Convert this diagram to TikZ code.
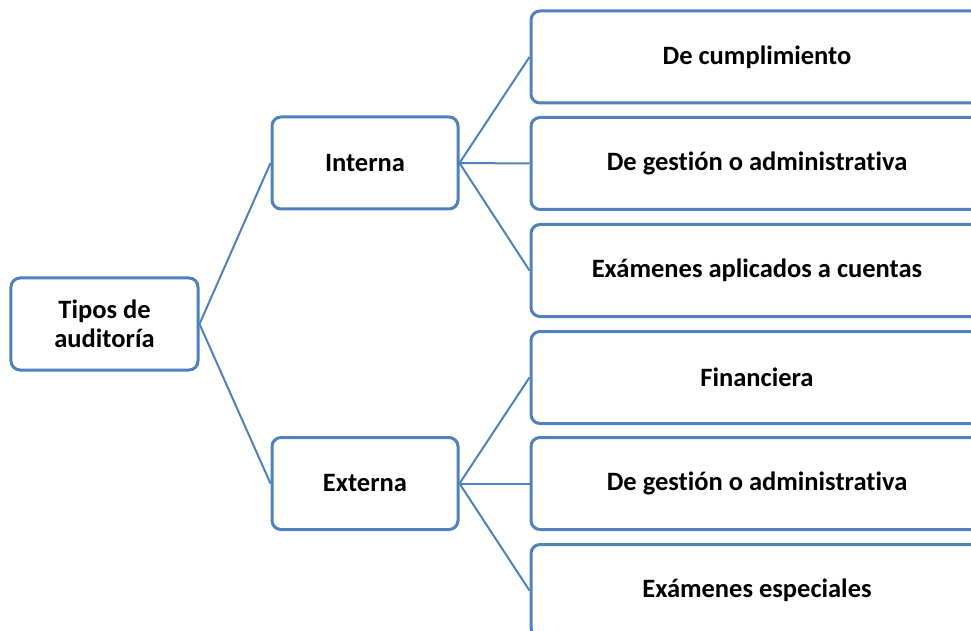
\documentclass[tikz,border=0pt]{standalone}
\usepackage{fontspec}
\setmainfont[RawFeature=-liga]{Carlito}
\definecolor{boxblue}{HTML}{4F81BD}
\begin{document}
\begin{tikzpicture}[x=1bp,y=-1bp,
  box/.style={draw=boxblue,line width=3bp,rounded corners=9bp,fill=white,
    minimum height=92bp,inner sep=0pt,align=center,
    font=\fontsize{26.5bp}{29bp}\selectfont\bfseries},
  conn/.style={draw=boxblue,line width=2bp}]
\useasboundingbox (0,0) rectangle (971,631);
\clip (0,0) rectangle (971,631);
\node[box,minimum width=187bp] (root) at (104.5,324) {Tipos de\\auditoría};
\node[box,minimum width=186bp] (int) at (365,163) {Interna};
\node[box,minimum width=186bp] (ext) at (365,483.5) {Externa};
\node[box,minimum width=452bp] (r1) at (757,57) {De cumplimiento};
\node[box,minimum width=452bp] (r2) at (757,163.5) {De gestión o administrativa};
\node[box,minimum width=452bp] (r3) at (757,270.5) {Exámenes aplicados a cuentas};
\node[box,minimum width=452bp] (r4) at (757,377.5) {Financiera};
\node[box,minimum width=452bp] (r5) at (757,483.5) {De gestión o administrativa};
\node[box,minimum width=452bp] (r6) at (757,590.5) {Exámenes especiales};
\draw[conn] (root.east) -- (int.west);
\draw[conn] (root.east) -- (ext.west);
\foreach \r in {r1,r2,r3}{\draw[conn] (int.east) -- (\r.west);}
\foreach \r in {r4,r5,r6}{\draw[conn] (ext.east) -- (\r.west);}
\end{tikzpicture}
\end{document}
